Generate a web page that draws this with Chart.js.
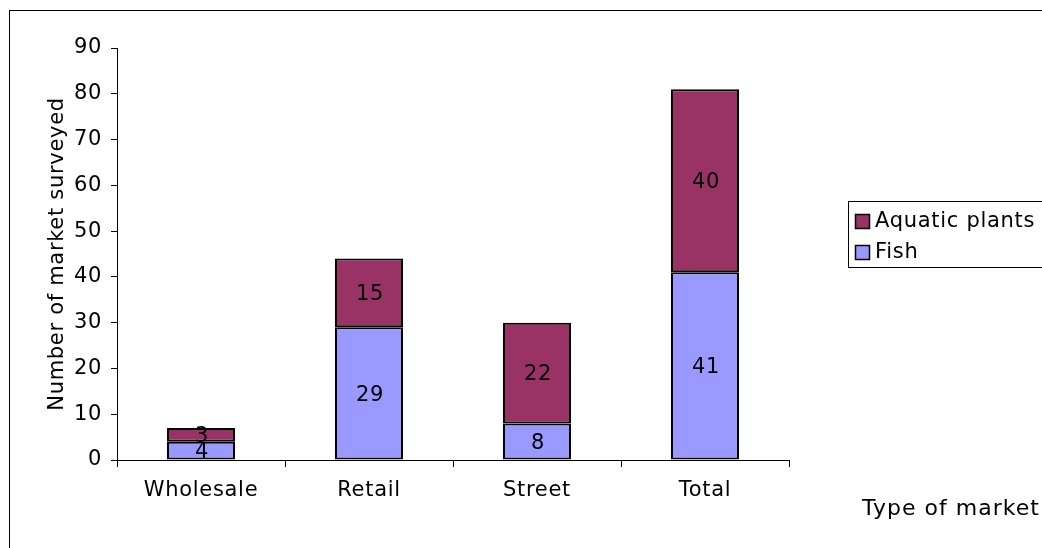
<!DOCTYPE html>
<html>
<head>
<meta charset="utf-8">
<script src="https://cdn.jsdelivr.net/npm/chart.js@4/dist/chart.umd.min.js"></script>
<style>
  html, body { margin: 0; padding: 0; background: #fff; }
  canvas { display: block; }
</style>
</head>
<body>
<canvas id="market-chart" width="1042" height="548"></canvas>
<script>
const categories = ['Wholesale', 'Retail', 'Street', 'Total'];
const fishCounts = [4, 29, 8, 41];
const plantCounts = [3, 15, 22, 40];
const yTicks = [0, 10, 20, 30, 40, 50, 60, 70, 80, 90];

const FONT = 'DejaVu Sans, Verdana, sans-serif';
const SIZE = 21;

// wide Verdana-like spacing for every piece of text on the canvas
const spacing = {
    id: 'spacing',
    beforeDraw(chart) {
        chart.ctx.letterSpacing = '0.7px';
    }
};

// value printed in the middle of every stacked segment
const barLabels = {
    id: 'barLabels',
    afterDatasetsDraw(chart) {
        const { ctx } = chart;
        ctx.save();
        ctx.font = SIZE + 'px ' + FONT;
        ctx.fillStyle = '#000';
        ctx.textAlign = 'center';
        ctx.textBaseline = 'middle';
        chart.data.datasets.forEach((ds, i) => {
            chart.getDatasetMeta(i).data.forEach((bar, j) => {
                const mid = (bar.y + bar.base) / 2;
                ctx.fillText(String(ds.data[j]), bar.x + 1, mid + 2);
            });
        });
        ctx.restore();
    }
};

// frame, boxed legend and the x axis caption
const decorations = {
    id: 'decorations',
    afterDraw(chart) {
        const { ctx } = chart;
        ctx.save();
        ctx.strokeStyle = '#000';
        ctx.lineWidth = 1;
        ctx.strokeRect(9.5, 10.5, 1060, 560);

        ctx.strokeRect(848.5, 201.5, 220, 66);
        ctx.font = SIZE + 'px ' + FONT;
        ctx.textBaseline = 'middle';
        ctx.textAlign = 'left';
        const items = [...chart.data.datasets].reverse();
        items.forEach((ds, k) => {
            const y = 221 + k * 31;
            ctx.fillStyle = ds.backgroundColor;
            ctx.fillRect(855, y - 7, 15, 15);
            ctx.lineWidth = 1.5;
            ctx.strokeRect(855.5, y - 6.5, 14, 14);
            ctx.fillStyle = '#000';
            ctx.fillText(ds.label, 875, y + 1);
        });

        ctx.font = '22px ' + FONT;
        ctx.letterSpacing = '1px';
        ctx.fillText('Type of market', 862, 509);
        ctx.restore();
    }
};

new Chart(document.getElementById('market-chart').getContext('2d'), {
    type: 'bar',
    data: {
        labels: categories,
        datasets: [
            {
                label: 'Fish',
                data: fishCounts,
                backgroundColor: '#9999ff',
                borderColor: '#000',
                borderWidth: 2,
                borderSkipped: false,
                categoryPercentage: 1,
                barPercentage: 0.405
            },
            {
                label: 'Aquatic plants',
                data: plantCounts,
                backgroundColor: '#993366',
                borderColor: '#000',
                borderWidth: 2,
                borderSkipped: false,
                categoryPercentage: 1,
                barPercentage: 0.405
            }
        ]
    },
    options: {
        responsive: false,
        animation: false,
        layout: { padding: { left: 0, top: 48, right: 253, bottom: 0 } },
        plugins: {
            legend: { display: false },
            tooltip: { enabled: false }
        },
        scales: {
            x: {
                stacked: true,
                afterFit: scale => { scale.height = 88; },
                grid: {
                    offset: true,
                    drawOnChartArea: false,
                    drawTicks: true,
                    tickLength: 7,
                    color: '#000'
                },
                border: { color: '#000', width: 1 },
                ticks: {
                    color: '#000',
                    padding: 11,
                    font: { family: FONT, size: SIZE }
                }
            },
            y: {
                stacked: true,
                min: 0,
                max: 90,
                afterFit: scale => { scale.width = 117; },
                afterBuildTicks: scale => {
                    scale.ticks = yTicks.map(v => ({ value: v }));
                },
                grid: {
                    drawOnChartArea: false,
                    drawTicks: true,
                    tickLength: 6,
                    color: '#000'
                },
                border: { color: '#000', width: 1 },
                ticks: {
                    color: '#000',
                    padding: 9,
                    font: { family: FONT, size: SIZE }
                },
                title: {
                    display: true,
                    text: 'Number of market surveyed',
                    color: '#000',
                    padding: { top: 45, bottom: 0 },
                    font: { family: FONT, size: SIZE }
                }
            }
        }
    },
    plugins: [spacing, barLabels, decorations]
});
</script>
</body>
</html>
